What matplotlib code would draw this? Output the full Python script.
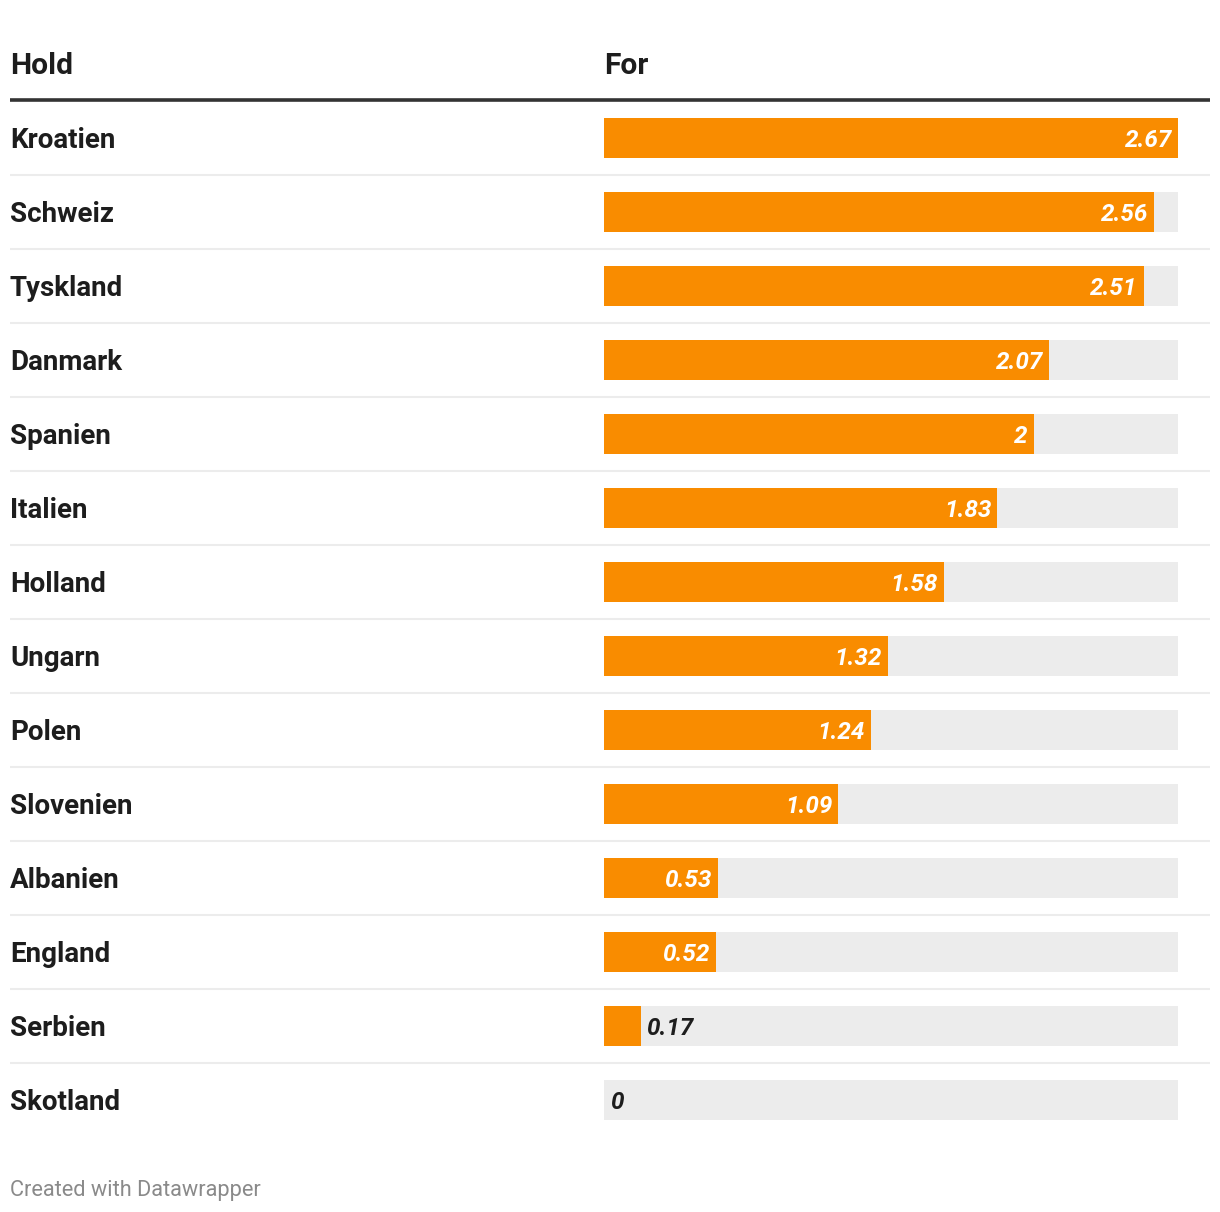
import matplotlib.pyplot as plt

# data
hold = ["Kroatien", "Schweiz", "Tyskland", "Danmark", "Spanien", "Italien", "Holland",
        "Ungarn", "Polen", "Slovenien", "Albanien", "England", "Serbien", "Skotland"]
values = [2.67, 2.56, 2.51, 2.07, 2.0, 1.83, 1.58, 1.32, 1.24, 1.09, 0.53, 0.52, 0.17, 0.0]
value_labels = ["2.67", "2.56", "2.51", "2.07", "2", "1.83", "1.58", "1.32", "1.24",
                "1.09", "0.53", "0.52", "0.17", "0"]
headers = ["Hold", "For"]

orange = "#f98c00"
track = "#ececec"
ink = "#1d1d1d"

W, H = 1220, 1212
fig = plt.figure(figsize=(W / 100, H / 100), dpi=100)
plt.rcParams['font.family'] = ['Roboto', 'DejaVu Sans']

n = len(hold)
top, bottom = 101, 138 + 74 * (n - 1) + 37  # pixel extent of table rows
ax_h = (bottom - top) / H
ax_b = 1 - bottom / H

# table axes (labels + rules), spans full table width
tab = fig.add_axes([10 / W, ax_b, 1200 / W, ax_h])
tab.set_xlim(0, 1)
tab.set_ylim(n - 0.5, -0.5)
tab.axis("off")

# bar axes
ax = fig.add_axes([604 / W, ax_b, 574 / W, ax_h])
ax.set_xlim(0, max(values))
ax.set_ylim(n - 0.5, -0.5)
ax.axis("off")

rows = list(range(n))
ax.barh(rows, [max(values)] * n, height=40 / 74, color=track, linewidth=0)
ax.barh(rows, values, height=40 / 74, color=orange, linewidth=0)

# header
tab.text(0, -0.865, headers[0], fontsize=21.6, fontweight="bold", color=ink,
         va="baseline", ha="left", clip_on=False)
tab.text(594 / 1200, -0.865, headers[1], fontsize=21.6, fontweight="bold", color=ink,
         va="baseline", ha="left", clip_on=False)
tab.axhline(-0.5 - 1 / 74, color="#333333", linewidth=2.6, clip_on=False,
            solid_capstyle="butt")

for i in range(n - 1):
    tab.axhline(i + 0.5, color=track, linewidth=1.5, solid_capstyle="butt")

for i, (name, v, lab) in enumerate(zip(hold, values, value_labels)):
    tab.text(0, i + 10 / 74, name, fontsize=20, fontweight="bold", color=ink,
             va="baseline", ha="left")
    if v > 0.3:
        ax.annotate(lab, (v, i + 9 / 74), xytext=(-6, 0), textcoords="offset pixels",
                    fontsize=17.5, fontweight="bold", style="italic", color="white",
                    ha="right", va="baseline")
    else:
        ax.annotate(lab, (v, i + 9 / 74), xytext=(6, 0), textcoords="offset pixels",
                    fontsize=17.5, fontweight="bold", style="italic", color=ink,
                    ha="left", va="baseline")

fig.text(10 / W, 1 - 1196 / H, "Created with Datawrapper", fontsize=15.7,
         color="#8a8a8a", va="baseline", ha="left")

fig.savefig("out.png", dpi=100, facecolor="white")
